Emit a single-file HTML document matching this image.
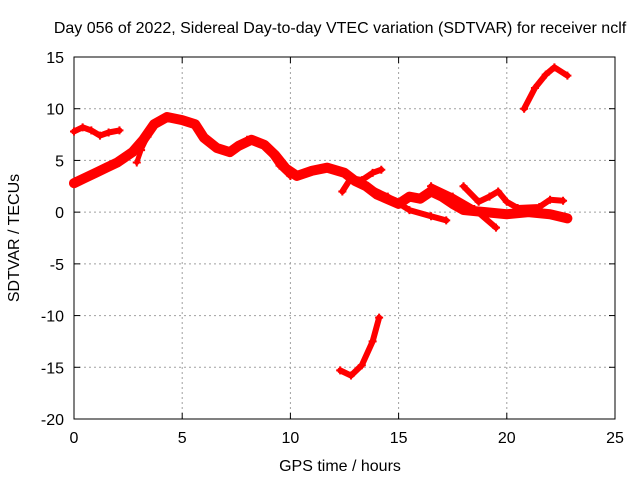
<!DOCTYPE html>
<html><head><meta charset="utf-8"><style>
body{margin:0;background:#fff}
svg{display:block;font-family:"Liberation Sans",sans-serif;font-size:16px}
</style></head><body>
<svg id="c" width="640" height="480">
<rect width="640" height="480" fill="#fff"/>
<text x="340" y="33" text-anchor="middle">Day 056 of 2022, Sidereal Day-to-day VTEC variation (SDTVAR) for receiver nclf</text>
<text x="340" y="471" text-anchor="middle">GPS time / hours</text>
<text transform="translate(19,238) rotate(-90)" text-anchor="middle">SDTVAR / TECUs</text>
<g id="grid"></g><g id="axes"></g><g id="marks"></g>
</svg>
<script>
const xTicks=[0,5,10,15,20,25];
const yTicks=[15,10,5,0,-5,-10,-15,-20];
const seriesA_x=[0,0.5,1,1.5,2,2.7,3.2,3.7,4.3,5,5.6,6,6.6,7.2,7.6,8.2,8.8,9.3,9.8,10.3,11,11.7,12.5,13,13.5,14,15,15.5,16,16.5,17,17.5,18,19,20,21,22,22.8];
const seriesA_y=[2.8,3.3,3.8,4.3,4.8,5.8,7,8.5,9.2,8.9,8.5,7.2,6.2,5.8,6.4,7,6.5,5.5,4.2,3.5,4,4.3,3.8,3,2.5,1.7,0.8,1.5,1.3,2,1.5,0.8,0.2,0,-0.2,0,-0.2,-0.6];
const seriesB_x=[0,0.4,0.8,1.2,1.6,2.1];
const seriesB_y=[7.8,8.2,7.9,7.4,7.7,7.9];
const seriesC_x=[8,8.5,9,9.5,10];
const seriesC_y=[7,6.8,6,4.5,3.5];
const seriesD_x=[12.4,12.8,13.3,13.8,14.2];
const seriesD_y=[2,3.3,3.1,3.8,4.1];
const seriesE_x=[13.5,14.5,15.5,16.5,17.2];
const seriesE_y=[2.5,1.5,0.2,-0.4,-0.8];
const seriesF_x=[16.5,17.5,18.5,19.5];
const seriesF_y=[2.5,1.5,0.3,-1.5];
const seriesG_x=[18,18.7,19.2,19.6,20,20.5,21.5,22,22.6];
const seriesG_y=[2.5,1,1.5,2,1,0.4,0.5,1.2,1.1];
const seriesH_x=[20.8,21.3,21.8,22.2,22.8];
const seriesH_y=[10,12,13.3,14,13.2];
const seriesI_x=[12.3,12.8,13.3,13.8,14.1];
const seriesI_y=[-15.3,-15.8,-14.8,-12.5,-10.2];
const seriesJ_x=[2.9,3.1,3.4];
const seriesJ_y=[4.8,6,7.3];
const X0=74,X1=615,Y0=57,Y1=419;
const sx=v=>X0+v*(X1-X0)/25;
const sy=v=>Y0+(15-v)*(Y1-Y0)/35;
const NS="http://www.w3.org/2000/svg";
function mk(t,a,p){const e=document.createElementNS(NS,t);for(const k in a)e.setAttribute(k,a[k]);p.appendChild(e);return e;}
const grid=document.getElementById('grid'),axes=document.getElementById('axes'),marks=document.getElementById('marks');
xTicks.forEach(v=>{const x=sx(v);
 if(v>0&&v<25){const g=mk('line',{x1:x,x2:x,y1:Y0,y2:Y1,stroke:'#a0a0a0','stroke-dasharray':'2,3'},grid);
 
 }
 mk('line',{x1:x,x2:x,y1:Y1,y2:Y1-6,stroke:'#000'},axes);
 mk('line',{x1:x,x2:x,y1:Y0,y2:Y0+6,stroke:'#000'},axes);
 const t=mk('text',{x:x,y:Y1+24,'text-anchor':'middle'},axes);t.textContent=v;
 
 });
yTicks.forEach(v=>{const y=sy(v);
 if(v<15&&v>-20){const g=mk('line',{x1:X0,x2:X1,y1:y,y2:y,stroke:'#a0a0a0','stroke-dasharray':'2,3'},grid);
 
 }
 mk('line',{x1:X0,x2:X0+6,y1:y,y2:y,stroke:'#000'},axes);
 mk('line',{x1:X1,x2:X1-6,y1:y,y2:y,stroke:'#000'},axes);
 const t=mk('text',{x:X0-10,y:y+6,'text-anchor':'end'},axes);t.textContent=v;
 
 });
const fr=mk('rect',{x:X0,y:Y0,width:X1-X0,height:Y1-Y0,fill:'none',stroke:'#000'},axes);


const all=[[seriesA_x,seriesA_y,10],[seriesB_x,seriesB_y,6],[seriesC_x,seriesC_y,6],[seriesD_x,seriesD_y,6],[seriesE_x,seriesE_y,6],[seriesF_x,seriesF_y,6],[seriesG_x,seriesG_y,6],[seriesH_x,seriesH_y,6],[seriesI_x,seriesI_y,6],[seriesJ_x,seriesJ_y,5]];
all.forEach(([xs,ys,w])=>{
 const pts=xs.map((x,i)=>sx(x)+','+sy(ys[i])).join(' ');
 const p=mk('polyline',{points:pts,fill:'none',stroke:'#f00','stroke-width':w,'stroke-linejoin':'round','stroke-linecap':'round'},marks);
 
 
 xs.forEach((x,i)=>{const cx=sx(x),cy=sy(ys[i]);
  mk('path',{d:`M${cx-4},${cy}h8M${cx},${cy-4}v8`,stroke:'#f00','stroke-width':2},marks);});
});
</script>
</body></html>
